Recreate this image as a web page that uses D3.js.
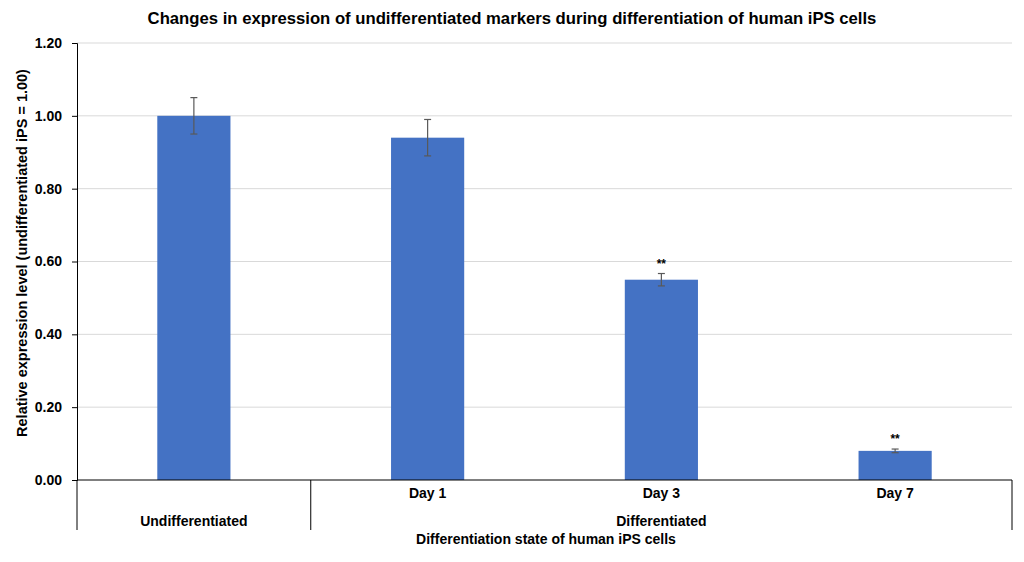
<!DOCTYPE html>
<html>
<head>
<meta charset="utf-8">
<script src="https://cdn.jsdelivr.net/npm/d3@7"></script>
<style>
  body { margin: 0; background: #fff; }
  text { font-family: "Liberation Sans", Arial, sans-serif; font-weight: bold; fill: #000; }
</style>
</head>
<body>
<svg id="chart" width="1024" height="562"></svg>
<script>
// chart data
var days = ["", "Day 1", "Day 3", "Day 7"];
var values = [1.00, 0.94, 0.55, 0.08];
var errors = [0.05, 0.05, 0.017, 0.005];
var marks = ["", "", "**", "**"];
var groups = [{ name: "Undifferentiated", from: 0, to: 1 }, { name: "Differentiated", from: 1, to: 4 }];
var yTicks = [0, 0.2, 0.4, 0.6, 0.8, 1.0, 1.2];

var svg = d3.select("#chart");
var plotLeft = 77, plotRight = 1012, plotTop = 43, plotBottom = 480;

var x = d3.scaleBand().domain(d3.range(values.length)).range([plotLeft, plotRight]).paddingInner(0.687).paddingOuter(0.3435);
var y = d3.scaleLinear().domain([0, 1.2]).range([plotBottom, plotTop]);

// gridlines
svg.append("g").selectAll("line").data(yTicks.slice(1)).enter().append("line")
    .attr("x1", plotLeft).attr("x2", plotRight)
    .attr("y1", function(d) { return y(d); }).attr("y2", function(d) { return y(d); })
    .attr("stroke", "#d9d9d9").attr("stroke-width", 1);

// y axis
var yAxis = svg.append("g").attr("transform", "translate(" + plotLeft + ",0)")
    .call(d3.axisLeft(y).tickValues(yTicks).tickFormat(d3.format(".2f")).tickSize(5).tickPadding(10));
yAxis.select(".domain").attr("stroke", "#000");
yAxis.selectAll(".tick line").attr("stroke", "#000");
yAxis.selectAll("text").attr("font-size", 14);

// bars
svg.append("g").selectAll("rect").data(values).enter().append("rect")
    .attr("x", function(d, i) { return x(i); })
    .attr("y", function(d) { return y(d); })
    .attr("width", x.bandwidth())
    .attr("height", function(d) { return y(0) - y(d); })
    .attr("fill", "#4472c4");

// error bars
var eb = svg.append("g").attr("stroke", "#595959").attr("stroke-width", 1.2);
values.forEach(function(v, i) {
    var cx = x(i) + x.bandwidth() / 2;
    eb.append("line").attr("x1", cx).attr("x2", cx).attr("y1", y(v + errors[i])).attr("y2", y(v - errors[i]));
    eb.append("line").attr("x1", cx - 3.5).attr("x2", cx + 3.5).attr("y1", y(v + errors[i])).attr("y2", y(v + errors[i]));
    eb.append("line").attr("x1", cx - 3.5).attr("x2", cx + 3.5).attr("y1", y(v - errors[i])).attr("y2", y(v - errors[i]));
});

// significance marks
svg.append("g").selectAll("text").data(marks).enter().append("text")
    .attr("x", function(d, i) { return x(i) + x.bandwidth() / 2; })
    .attr("y", function(d, i) { return y(values[i] + errors[i]) - 6; })
    .attr("text-anchor", "middle").attr("font-size", 12)
    .text(function(d) { return d; });

// x axis line and category boxes
var edge = function(i) { return plotLeft + i * (plotRight - plotLeft) / values.length; };
svg.append("line").attr("x1", plotLeft).attr("x2", plotRight).attr("y1", plotBottom).attr("y2", plotBottom).attr("stroke", "#000");
[0, 1, 4].forEach(function(i) {
    svg.append("line").attr("x1", edge(i)).attr("x2", edge(i)).attr("y1", plotBottom).attr("y2", 530).attr("stroke", "#000");
});

svg.append("g").selectAll("text").data(days).enter().append("text")
    .attr("x", function(d, i) { return x(i) + x.bandwidth() / 2; })
    .attr("y", 498).attr("text-anchor", "middle").attr("font-size", 14)
    .text(function(d) { return d; });

svg.append("g").selectAll("text").data(groups).enter().append("text")
    .attr("x", function(d) { return (edge(d.from) + edge(d.to)) / 2; })
    .attr("y", 526).attr("text-anchor", "middle").attr("font-size", 14)
    .text(function(d) { return d.name; });

// titles
svg.append("text").attr("x", 546).attr("y", 544).attr("text-anchor", "middle").attr("font-size", 14)
    .text("Differentiation state of human iPS cells");
svg.append("text").attr("transform", "translate(27,253) rotate(-90)").attr("text-anchor", "middle").attr("font-size", 14.5)
    .text("Relative expression level (undifferentiated  iPS = 1.00)");
svg.append("text").attr("x", 512).attr("y", 24).attr("text-anchor", "middle").attr("font-size", 16.7)
    .text("Changes in expression of undifferentiated markers during differentiation of human iPS cells");
</script>
</body>
</html>
